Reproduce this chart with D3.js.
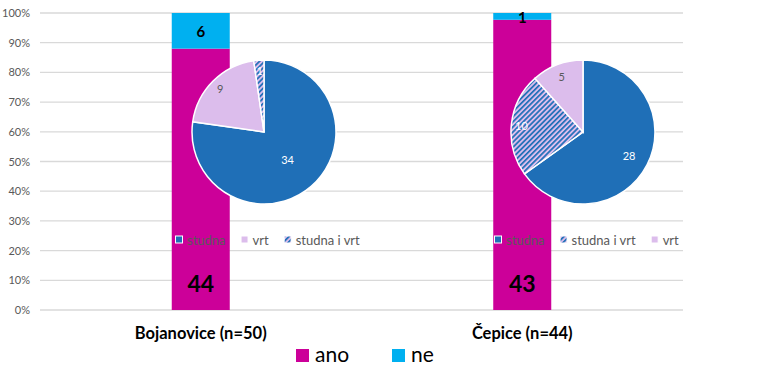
<!DOCTYPE html>
<html><head><meta charset="utf-8">
<script src="https://cdn.jsdelivr.net/npm/d3@7"></script>
<style>body{margin:0;background:#fff}svg{display:block;font-family:Lato,"Open Sans",sans-serif}</style>
</head><body><svg id="c" width="768" height="388"></svg>
<script>
// ---- data ----
const categories = ["Bojanovice (n=50)", "Čepice (n=44)"];
const ano = [44, 43];
const ne = [6, 1];
const yTicks = [0,0.1,0.2,0.3,0.4,0.5,0.6,0.7,0.8,0.9,1];
const pieLabels1 = ["studna", "vrt", "studna i vrt"];
const pieValues1 = [34, 9, 1];
const pieLabels2 = ["studna", "studna i vrt", "vrt"];
const pieValues2 = [28, 10, 5];
const seriesNames = ["ano", "ne"];

// ---- style ----
const C = {ano:"#CC0099", ne:"#00B0F0", studna:"#1F6FB7", vrt:"#DCBDEC", grid:"#D9D9D9", text:"#595959"};
const svg = d3.select("#c");
const defs = svg.append("defs");
const pat = defs.append("pattern").attr("id","hatch").attr("patternUnits","userSpaceOnUse")
  .attr("width",3.6).attr("height",3.6).attr("patternTransform","rotate(45)");
pat.append("rect").attr("width",3.6).attr("height",3.6).attr("fill",C.vrt);
pat.append("rect").attr("width",1.7).attr("height",3.6).attr("fill",C.studna);
const fillFor = n => n==="studna"?C.studna:(n==="vrt"?C.vrt:"url(#hatch)");

const m = {l:40, r:85, t:13, b:78};
const W = 768, H = 388;
const x = d3.scaleBand().domain(categories).range([m.l, W-m.r]);
const y = d3.scaleLinear().domain([0,1]).range([H-m.b, m.t]);

// grid
svg.append("g").selectAll("line").data(yTicks).join("line")
  .attr("x1",m.l).attr("x2",W-m.r).attr("y1",d=>y(d)).attr("y2",d=>y(d))
  .attr("stroke",C.grid).attr("stroke-width",1.3);
// y axis labels
const yAxis = d3.axisLeft(y).tickValues(yTicks).tickFormat(d3.format(".0%")).tickSize(0).tickPadding(10);
const ya = svg.append("g").attr("transform",`translate(${m.l},0)`).call(yAxis);
ya.select(".domain").remove();
ya.selectAll("text").attr("fill",C.text).style("font-size","11px").style("font-family","Lato,sans-serif");

// bars
const bw = 58;
categories.forEach((c,i)=>{
  const tot = ano[i]+ne[i];
  const cx = x(c)+x.bandwidth()/2;
  const pA = ano[i]/tot;
  svg.append("rect").attr("x",cx-bw/2).attr("width",bw).attr("y",y(pA)).attr("height",y(0)-y(pA)).attr("fill",C.ano);
  svg.append("rect").attr("x",cx-bw/2).attr("width",bw).attr("y",y(1)).attr("height",y(pA)-y(1)).attr("fill",C.ne);
  svg.append("text").attr("x",cx).attr("y",y(0.09)).attr("text-anchor","middle").attr("dominant-baseline","central")
    .attr("font-weight","bold").attr("font-size","23px").attr("fill","#000").text(ano[i]);
  const neMid = ne[i]/tot < 0.05 ? y(1)+4 : (y(1)+y(pA))/2;
  svg.append("text").attr("x",cx).attr("y",neMid).attr("text-anchor","middle").attr("dominant-baseline","central")
    .attr("font-weight","bold").attr("font-size","15px").attr("fill","#000").text(ne[i]);
  svg.append("text").attr("x",cx).attr("y",339).attr("text-anchor","middle")
    .attr("font-weight","bold").attr("font-size","16.5px").attr("fill","#000").text(c);
});

// pies
const R = 72;
const pies = [
  {labels:pieLabels1, values:pieValues1, cx:264, cy:132, lf:[0.5,0.86,0.86], legX:175},
  {labels:pieLabels2, values:pieValues2, cx:583, cy:132, lf:[0.72,0.86,0.83], legX:494}
];
const pieGen = d3.pie().sort(null).value(d=>d.v);
const arc = d3.arc().innerRadius(0).outerRadius(R);
pies.forEach(p=>{
  const data = p.labels.map((l,i)=>({l, v:p.values[i]}));
  const g = svg.append("g").attr("transform",`translate(${p.cx},${p.cy})`);
  const arcs = pieGen(data);
  g.selectAll("path").data(arcs).join("path").attr("d",arc)
    .attr("fill",d=>fillFor(d.data.l)).attr("stroke","#fff").attr("stroke-width",1.5);
  g.selectAll("text").data(arcs).join("text")
    .attr("transform",(d,i)=>{const a=(d.startAngle+d.endAngle)/2, r=R*p.lf[i]; return `translate(${r*Math.sin(a)},${-r*Math.cos(a)})`;})
    .attr("text-anchor","middle").attr("dominant-baseline","central").attr("font-size","11px")
    .attr("fill",d=>d.data.l==="vrt"?C.text:"#fff").text(d=>d.data.v);
  // legend
  let lx = p.legX;
  const ly = 240;
  p.labels.forEach(l=>{
    svg.append("rect").attr("x",lx+0.5).attr("y",ly-4).attr("width",7).attr("height",7)
      .attr("fill",fillFor(l)).attr("stroke","#fff").attr("stroke-width",1);
    const t = svg.append("text").attr("x",lx+12).attr("y",ly).attr("dominant-baseline","central")
      .attr("font-size","13px").attr("fill",C.text).text(l);
    lx += 12 + t.node().getComputedTextLength() + 15;
  });
});

// main legend
const mainLeg = [{n:seriesNames[0], x:296, c:C.ano},{n:seriesNames[1], x:392, c:C.ne}];
mainLeg.forEach(d=>{
  svg.append("rect").attr("x",d.x).attr("y",349).attr("width",13).attr("height",13).attr("fill",d.c);
  svg.append("text").attr("x",d.x+19).attr("y",362).attr("font-size","21px").attr("fill","#000").text(d.n);
});
</script></body></html>
